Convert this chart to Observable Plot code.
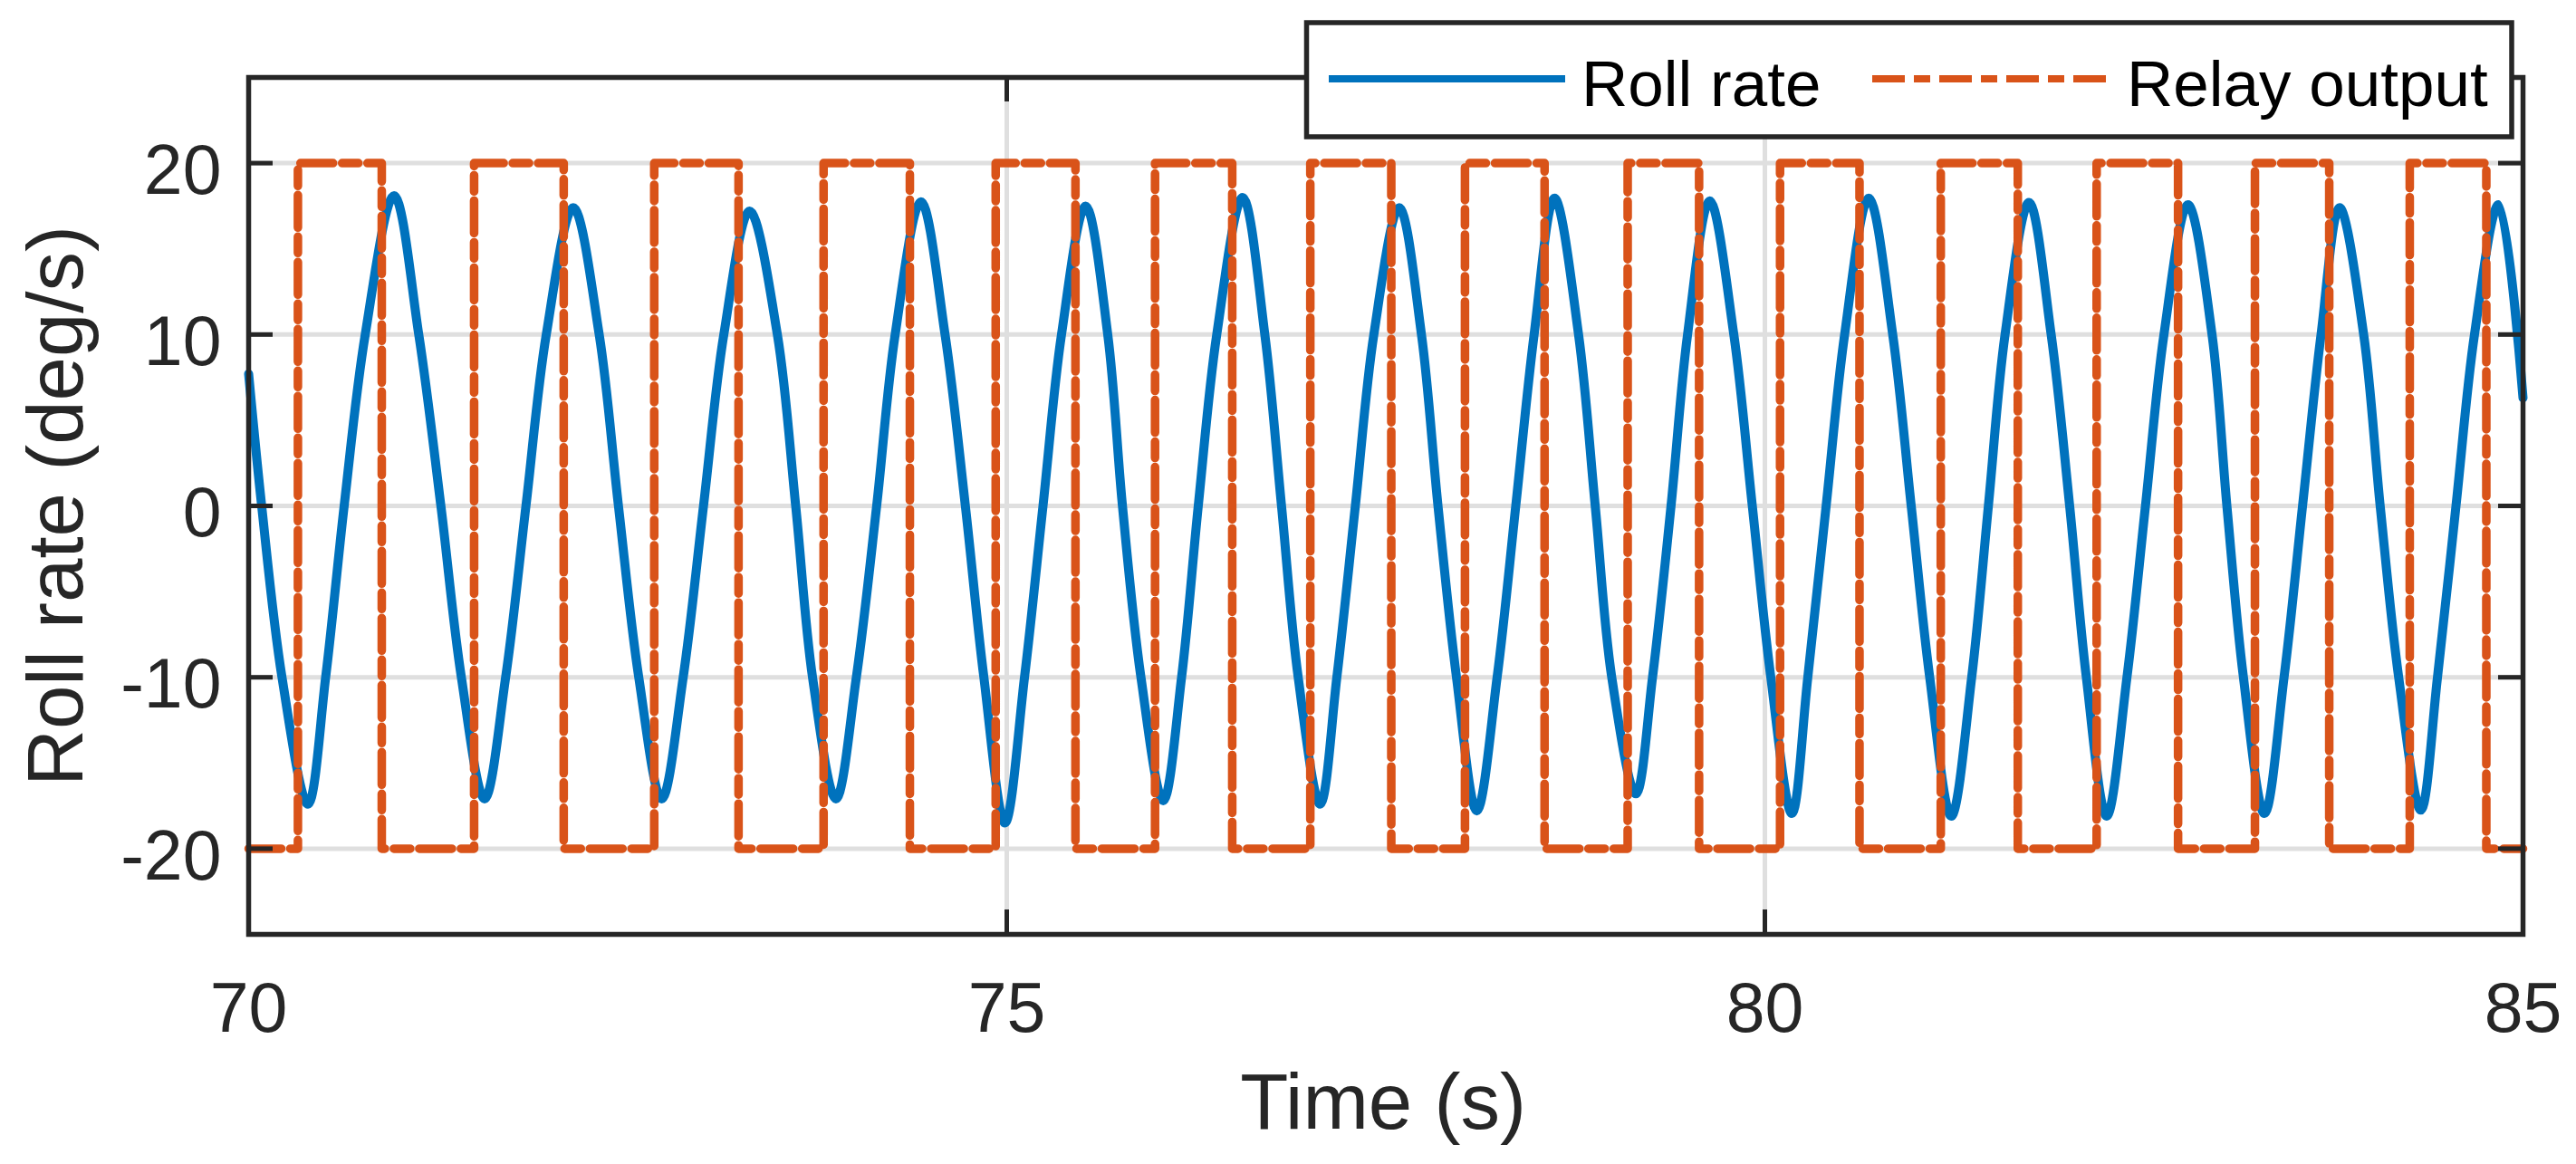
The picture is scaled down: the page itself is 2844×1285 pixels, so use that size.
<!DOCTYPE html>
<html>
<head>
<meta charset="utf-8">
<script src="https://cdn.jsdelivr.net/npm/d3@7"></script>
<script src="https://cdn.jsdelivr.net/npm/@observablehq/plot@0.6"></script>
<style>
  html, body { margin: 0; padding: 0; background: #ffffff; }
  #wrap { position: relative; width: 2844px; height: 1285px; }
  #legend { position: absolute; left: 0; top: 0; }
</style>
</head>
<body>
<div id="wrap"></div>
<script>
// ---------- data ----------
const seriesNames = ["Roll rate", "Relay output"];
const xLabel = "Time (s)";
const yLabel = "Roll rate (deg/s)";

const xTicks = [70, 75, 80, 85];
const xTickLabels = ["70", "75", "80", "85"];
const yTicks = [-20, -10, 0, 10, 20];
const yTickLabels = ["-20", "-10", "0", "10", "20"];

// Roll rate: extrema, ±10 and zero crossings
const rollTime = [
  70.0, 70.086, 70.22,
  70.391, 70.508, 70.63, 70.769,
  70.959, 71.122, 71.268, 71.403,
  71.556, 71.695, 71.829, 71.963,
  72.141, 72.312, 72.439, 72.573,
  72.724, 72.866, 73.0, 73.134,
  73.304, 73.487, 73.608, 73.719,
  73.873, 74.008, 74.142, 74.264,
  74.434, 74.593, 74.727, 74.849,
  74.988, 75.117, 75.239, 75.361,
  75.52, 75.666, 75.763, 75.885,
  76.032, 76.153, 76.263, 76.385,
  76.556, 76.702, 76.812, 76.922,
  77.067, 77.177, 77.299, 77.421,
  77.588, 77.735, 77.844, 77.966,
  78.100, 78.234, 78.357, 78.478,
  78.612, 78.771, 78.881, 78.990,
  79.149, 79.259, 79.381, 79.490,
  79.636, 79.795, 79.917, 80.039,
  80.178, 80.283, 80.404, 80.526,
  80.685, 80.843, 80.965, 81.087,
  81.229, 81.364, 81.474, 81.584,
  81.742, 81.888, 82.010, 82.120,
  82.254, 82.388, 82.510, 82.632,
  82.790, 82.949, 83.047, 83.156,
  83.295, 83.424, 83.546, 83.668,
  83.790, 83.949, 84.058, 84.180,
  84.326, 84.436, 84.558, 84.680,
  84.839, 85.0
];
const rollValue = [
  7.7, 0, -10,
  -17.4, -10, 0, 10,
  18.1, 10, 0, -10,
  -17.1, -10, 0, 10,
  17.4, 10, 0, -10,
  -17.1, -10, 0, 10,
  17.2, 10, 0, -10,
  -17.1, -10, 0, 10,
  17.75, 10, 0, -10,
  -18.5, -10, 0, 10,
  17.5, 10, 0, -10,
  -17.2, -10, 0, 10,
  18.0, 10, 0, -10,
  -17.4, -10, 0, 10,
  17.4, 10, 0, -10,
  -17.8, -10, 0, 10,
  17.96, 10, 0, -10,
  -16.8, -10, 0, 10,
  17.8, 10, 0, -10,
  -17.95, -10, 0, 10,
  17.96, 10, 0, -10,
  -18.1, -10, 0, 10,
  17.7, 10, 0, -10,
  -18.1, -10, 0, 10,
  17.57, 10, 0, -10,
  -17.95, -10, 0, 10,
  17.4, 10, 0, -10,
  -17.75, -10, 0, 10,
  17.57, 6.3
];

// Relay output: switching instants and levels
const relayTime = [
  70, 70.325, 70.878, 71.487, 72.078, 72.675, 73.231, 73.792, 74.361, 74.927,
  75.453, 75.978, 76.487, 77.002, 77.536, 78.022, 78.547, 79.095, 79.566, 80.100,
  80.624, 81.160, 81.668, 82.188, 82.725, 83.232, 83.722, 84.253, 84.758, 85
];
const relayValue = [
  -20, 20, -20, 20, -20, 20, -20, 20, -20, 20,
  -20, 20, -20, 20, -20, 20, -20, 20, -20, 20,
  -20, 20, -20, 20, -20, 20, -20, 20, -20, -20
];

// ---------- build tables ----------
const rollData = rollTime.map((t, i) => ({t, v: rollValue[i]}));
const relayData = relayTime.map((t, i) => ({t, v: relayValue[i]}));

// ---------- layout / style ----------
const W = 2844, H = 1285;
const mTop = 85, mRight = 59, mBottom = 254, mLeft = 274;
const plotW = W - mLeft - mRight;
const plotH = H - mTop - mBottom;
const tickLen = 27;
const axisColor = "#262626";
const gridColor = "#dfdfdf";
const blue = "#0072BD";
const orange = "#D95319";
const font = "'Liberation Sans', Arial, Helvetica, sans-serif";
const relayDash = "36,10,18,10";

const chart = Plot.plot({
  width: W,
  height: H,
  marginTop: mTop,
  marginRight: mRight,
  marginBottom: mBottom,
  marginLeft: mLeft,
  style: {fontFamily: font, background: "#ffffff", color: axisColor, overflow: "visible"},
  x: {domain: [70, 85]},
  y: {domain: [-25, 25]},
  marks: [
    Plot.ruleX(xTicks, {x: d => d, stroke: gridColor, strokeWidth: 5}),
    Plot.ruleY(yTicks, {y: d => d, stroke: gridColor, strokeWidth: 5}),
    Plot.line(rollData, {x: "t", y: "v", stroke: blue, strokeWidth: 10, curve: "catmull-rom", strokeLinejoin: "round"}),
    Plot.line(relayData, {x: "t", y: "v", stroke: orange, strokeWidth: 9.5, curve: "step-after",
      strokeDasharray: relayDash, strokeLinejoin: "round"}),
    Plot.frame({stroke: axisColor, strokeWidth: 5.5}),
    Plot.tickX(xTicks, {x: d => d, stroke: axisColor, strokeWidth: 5, insetTop: plotH - tickLen}),
    Plot.tickX(xTicks, {x: d => d, stroke: axisColor, strokeWidth: 5, insetBottom: plotH - tickLen}),
    Plot.tickY(yTicks, {y: d => d, stroke: axisColor, strokeWidth: 5, insetRight: plotW - tickLen}),
    Plot.tickY(yTicks, {y: d => d, stroke: axisColor, strokeWidth: 5, insetLeft: plotW - tickLen}),
    Plot.axisX(xTicks, {tickSize: 0, tickPadding: 53, fontSize: 77, fill: axisColor, label: null,
      tickFormat: d => xTickLabels[xTicks.indexOf(d)]}),
    Plot.axisY(yTicks, {tickSize: 0, tickPadding: 30, fontSize: 77, fill: axisColor, label: null, dy: 9,
      tickFormat: d => yTickLabels[yTicks.indexOf(d)]}),
    Plot.text([xLabel], {text: d => d, frameAnchor: "bottom", textAnchor: "middle", dy: 153, dx: -3,
      lineAnchor: "top", fontSize: 87, fill: axisColor}),
    Plot.text([yLabel], {text: d => d, frameAnchor: "left", textAnchor: "middle", rotate: -90, dx: -245,
      lineAnchor: "top", fontSize: 87, fill: axisColor})
  ]
});

const wrap = document.getElementById("wrap");
wrap.appendChild(chart);

// ---------- legend (overlaid on the top-right of the axes, as in the reference) ----------
const ns = "http://www.w3.org/2000/svg";
const leg = document.createElementNS(ns, "svg");
leg.setAttribute("id", "legend");
leg.setAttribute("width", W);
leg.setAttribute("height", 200);
function el(name, attrs, text) {
  const e = document.createElementNS(ns, name);
  for (const k in attrs) e.setAttribute(k, attrs[k]);
  if (text != null) e.textContent = text;
  leg.appendChild(e);
  return e;
}
el("rect", {x: 1442.5, y: 25, width: 1330.5, height: 126, fill: "#ffffff", stroke: axisColor, "stroke-width": 5.5});
el("line", {x1: 1467, x2: 1728, y1: 87, y2: 87, stroke: blue, "stroke-width": 8});
el("text", {x: 1746, y: 117, "font-family": font, "font-size": 71, fill: "#000000"}, seriesNames[0]);
el("line", {x1: 2067, x2: 2330, y1: 87, y2: 87, stroke: orange, "stroke-width": 8, "stroke-dasharray": relayDash});
el("text", {x: 2348, y: 117, "font-family": font, "font-size": 71, fill: "#000000"}, seriesNames[1]);
wrap.appendChild(leg);
</script>
</body>
</html>
